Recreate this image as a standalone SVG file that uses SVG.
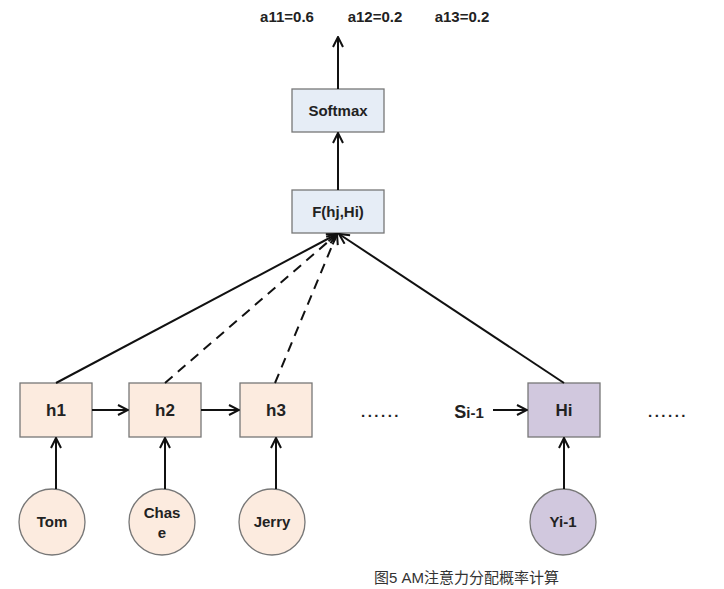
<svg xmlns="http://www.w3.org/2000/svg" width="724" height="589" viewBox="0 0 724 589">
<style>
.t{font-family:"Liberation Sans",Arial,sans-serif;font-weight:bold;fill:#222;text-anchor:middle}
.box{stroke:#777;stroke-width:1.3}
.pe{fill:#fcebdf}
.bl{fill:#e6edf6}
.pu{fill:#d1c8de}
.ln{stroke:#111;stroke-width:2;fill:none}
.ds{stroke-dasharray:10,7}
</style>
<defs>
<marker id="ar" viewBox="0 0 12 12" refX="11" refY="6" markerWidth="12" markerHeight="12" markerUnits="userSpaceOnUse" orient="auto">
<path d="M1,1 L11,6 L1,11" fill="none" stroke="#111" stroke-width="2"/>
</marker>
</defs>
<rect width="724" height="589" fill="#fff"/>
<g id="labels">
<text class="t" x="287" y="22" font-size="15">a11=0.6</text>
<text class="t" x="375" y="22" font-size="15">a12=0.2</text>
<text class="t" x="462" y="22" font-size="15">a13=0.2</text>
</g>
<g id="softmax"><rect class="box bl" x="292" y="89" width="92" height="43"/><text class="t" x="338" y="116" font-size="15">Softmax</text></g>
<g id="f"><rect class="box bl" x="292" y="190" width="92" height="43"/><text class="t" x="338" y="217" font-size="15">F(hj,Hi)</text></g>
<g id="h1"><rect class="box pe" x="20" y="383" width="72" height="54"/><text class="t" x="56" y="416" font-size="17">h1</text></g>
<g id="h2"><rect class="box pe" x="129" y="383" width="72" height="54"/><text class="t" x="165" y="416" font-size="17">h2</text></g>
<g id="h3"><rect class="box pe" x="240" y="383" width="72" height="54"/><text class="t" x="276" y="416" font-size="17">h3</text></g>
<g id="hi"><rect class="box pu" x="528" y="383" width="72" height="54"/><text class="t" x="564" y="416" font-size="17">Hi</text></g>
<g id="tom"><circle class="box pe" cx="52" cy="522" r="33"/><text class="t" x="52" y="527" font-size="15">Tom</text></g>
<g id="chase"><circle class="box pe" cx="162" cy="522" r="33"/><text class="t" x="162" y="518" font-size="15">Chas</text><text class="t" x="162" y="538" font-size="15">e</text></g>
<g id="jerry"><circle class="box pe" cx="272" cy="522" r="33"/><text class="t" x="272" y="527" font-size="15">Jerry</text></g>
<g id="yi"><circle class="box pu" cx="563" cy="522" r="33"/><text class="t" x="563" y="527" font-size="15">Yi-1</text></g>
<g id="dots">
<text class="t" x="381" y="417" font-size="15" letter-spacing="2.5">......</text>
<text class="t" x="668" y="417" font-size="15" letter-spacing="2.5">......</text>
<text class="t" x="469" y="418" font-size="15"><tspan font-size="18">S</tspan>i-1</text>
</g>
<g id="connectors">
<line class="ln" x1="338" y1="89" x2="338" y2="37" marker-end="url(#ar)"/>
<line class="ln" x1="338" y1="190" x2="338" y2="133" marker-end="url(#ar)"/>
<line class="ln" x1="56" y1="383" x2="337" y2="234" marker-end="url(#ar)"/>
<line class="ln ds" x1="165" y1="383" x2="337" y2="234" marker-end="url(#ar)"/>
<line class="ln ds" x1="275" y1="383" x2="337" y2="234" marker-end="url(#ar)"/>
<line class="ln" x1="564" y1="383" x2="339" y2="234" marker-end="url(#ar)"/>
<line class="ln" x1="92" y1="410" x2="128" y2="410" marker-end="url(#ar)"/>
<line class="ln" x1="201" y1="410" x2="239" y2="410" marker-end="url(#ar)"/>
<line class="ln" x1="493" y1="410" x2="527" y2="410" marker-end="url(#ar)"/>
<line class="ln" x1="56" y1="489" x2="56" y2="438" marker-end="url(#ar)"/>
<line class="ln" x1="165" y1="489" x2="165" y2="438" marker-end="url(#ar)"/>
<line class="ln" x1="276" y1="489" x2="276" y2="438" marker-end="url(#ar)"/>
<line class="ln" x1="564" y1="489" x2="564" y2="438" marker-end="url(#ar)"/>
</g>
<text x="374" y="583" font-size="15" fill="#333" font-family="'Liberation Sans','Noto Sans CJK SC',sans-serif">图5 AM注意力分配概率计算</text>
</svg>
